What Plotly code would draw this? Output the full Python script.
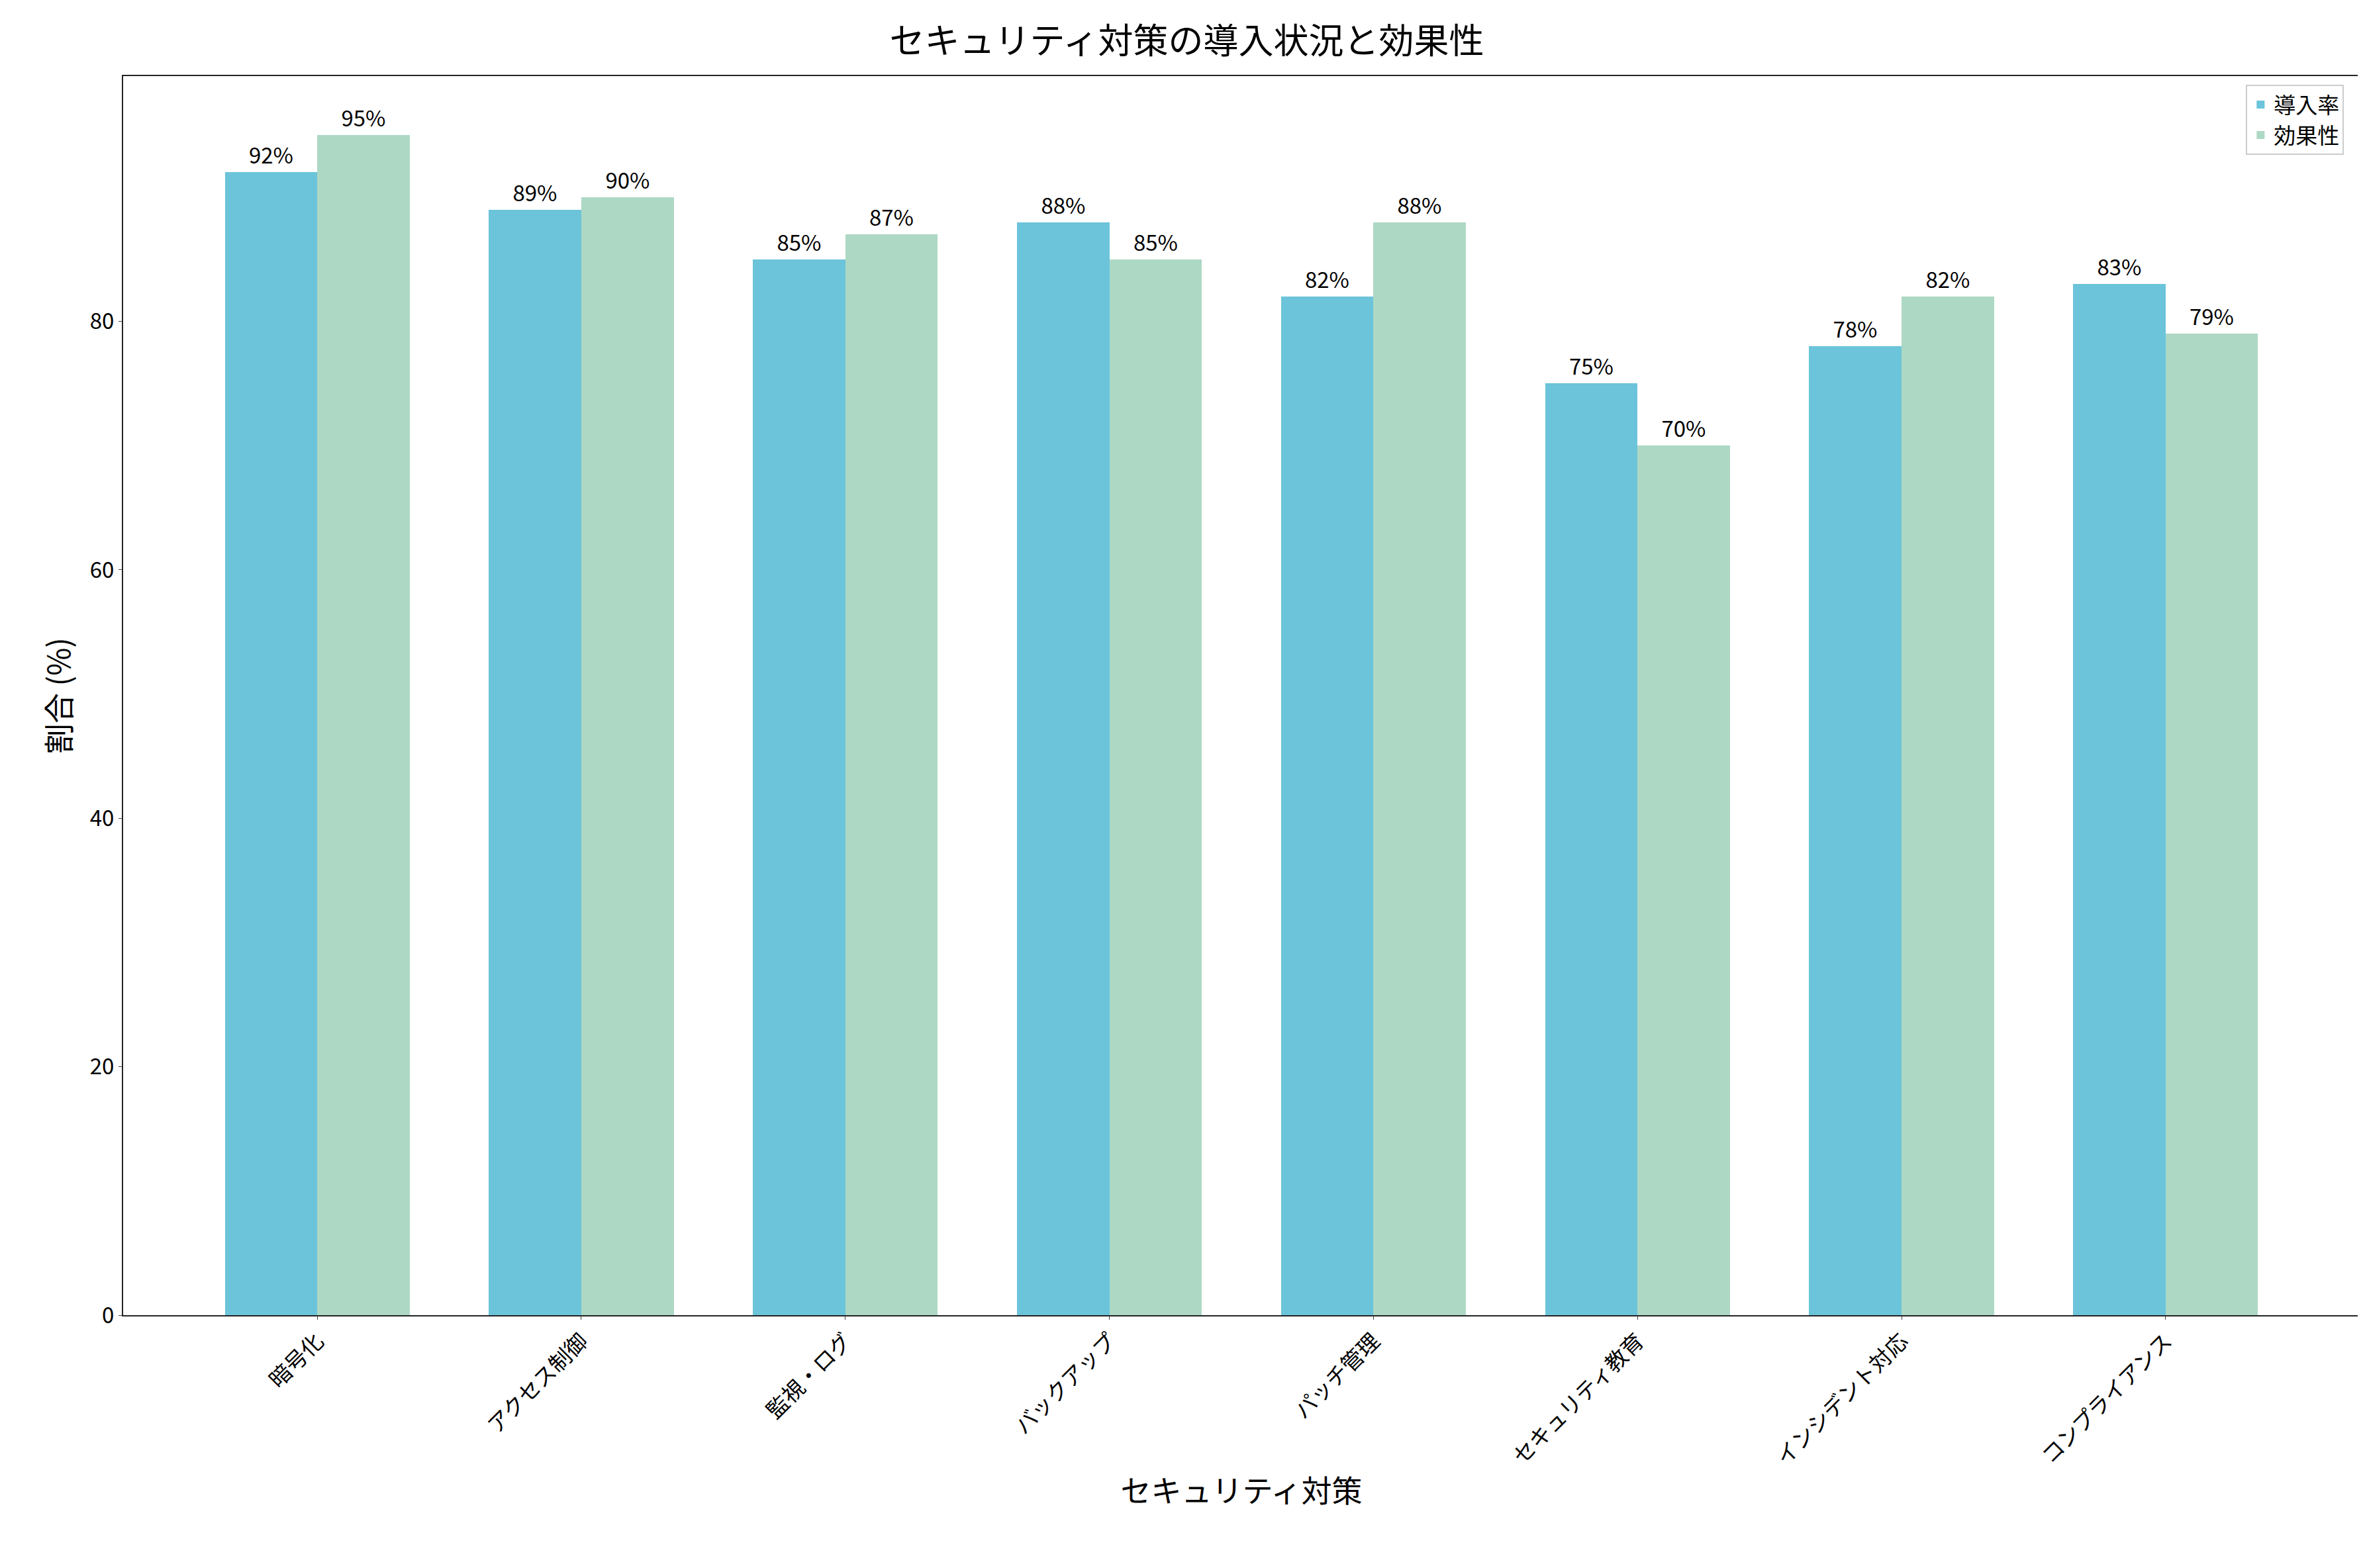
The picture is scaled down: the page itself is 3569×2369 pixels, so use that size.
import plotly.graph_objects as go

measures = ['暗号化', 'アクセス制御', '監視・ログ', 'バックアップ', 'パッチ管理',
            'セキュリティ教育', 'インシデント対応', 'コンプライアンス']
adoption = [92, 89, 85, 88, 82, 75, 78, 83]
effectiveness = [95, 90, 87, 85, 88, 70, 82, 79]

FONT = 'Noto Sans CJK JP, DejaVu Sans, sans-serif'
x = list(range(len(measures)))
w = 0.35

fig = go.Figure()
fig.add_trace(go.Bar(x=[i - w / 2 for i in x], y=adoption, width=w, name='導入率',
                     marker_color='#6BC4DA', text=[f'{v}%' for v in adoption],
                     textposition='outside', cliponaxis=False))
fig.add_trace(go.Bar(x=[i + w / 2 for i in x], y=effectiveness, width=w, name='効果性',
                     marker_color='#ADD8C4', text=[f'{v}%' for v in effectiveness],
                     textposition='outside', cliponaxis=False))
fig.update_traces(textfont=dict(size=33, color='black'), marker_line_width=0)

fig.update_layout(
    width=3569, height=2369, template='simple_white',
    font=dict(family=FONT, size=33, color='black'),
    title=dict(text='セキュリティ対策の導入状況と効果性', x=0.5, xanchor='center',
               y=0.985, yanchor='top', font=dict(size=53)),
    margin=dict(l=178, r=11, t=107, b=390),
    bargap=0, barmode='overlay',
    legend=dict(x=0.993, y=0.993, xanchor='right', yanchor='top',
                bordercolor='#cccccc', borderwidth=2, font=dict(size=33)),
    xaxis=dict(tickmode='array', tickvals=x, ticktext=measures, tickangle=-45,
               range=[-0.735, 7.735], showline=True, mirror=True, linewidth=2,
               ticks='outside', title=dict(text='セキュリティ対策', font=dict(size=46))),
    yaxis=dict(range=[0, 99.75], dtick=20, showline=True, mirror=True, linewidth=2,
               ticks='outside', title=dict(text='割合 (%)', font=dict(size=46))),
)
fig.write_html('out.html')
